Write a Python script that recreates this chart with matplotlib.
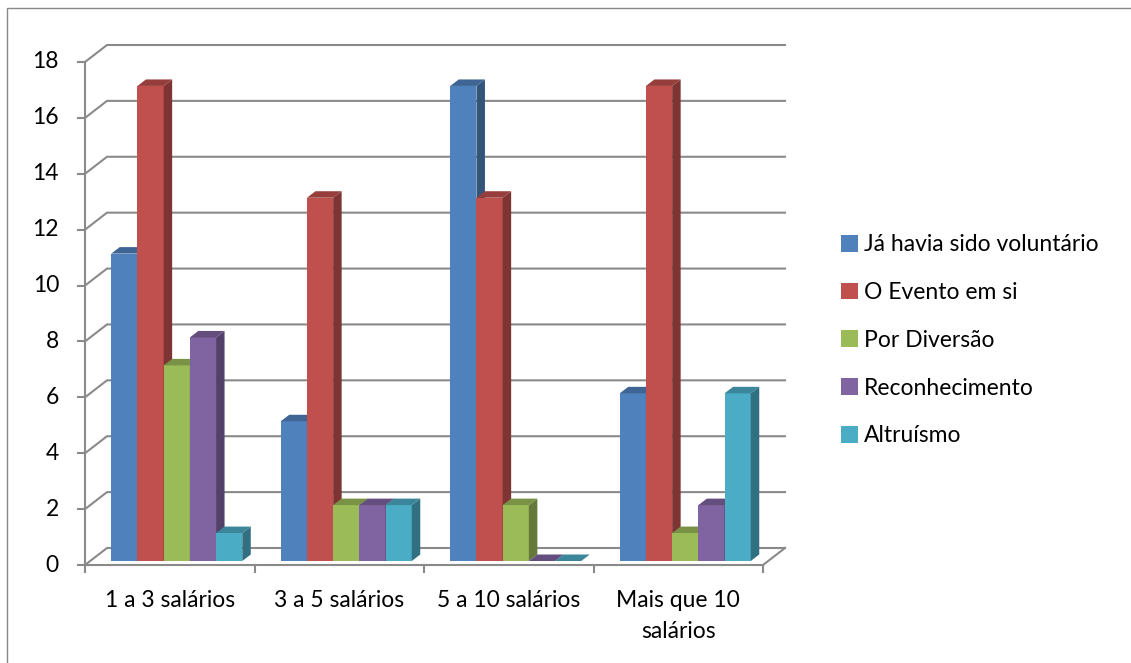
import numpy as np
import matplotlib.pyplot as plt
from matplotlib.patches import Polygon, Rectangle, Patch

plt.rcParams['font.family'] = ['Lato', 'DejaVu Sans']

categorias = ["1 a 3 salários", "3 a 5 salários", "5 a 10 salários", "Mais que 10\nsalários"]
series = ["Já havia sido voluntário", "O Evento em si", "Por Diversão",
          "Reconhecimento", "Altruísmo"]
ja_voluntario = [11, 5, 17, 6]
evento = [17, 13, 13, 17]
diversao = [7, 2, 2, 1]
reconhecimento = [8, 2, 0, 2]
altruismo = [1, 2, 0, 6]
valores = [ja_voluntario, evento, diversao, reconhecimento, altruismo]
yticks = list(range(0, 19, 2))

cores = ["#4F81BD", "#C0504D", "#9BBB59", "#8064A2", "#4BACC6"]
fs = 16.5

def escurece(c, f):
    c = c.lstrip('#')
    rgb = np.array([int(c[k:k+2], 16) for k in (0, 2, 4)]) / 255.0
    return tuple(rgb * f)

W, H = 1131, 663
fig = plt.figure(figsize=(W/100, H/100), dpi=100)
# front plane of the 3d box
x0p, x1p, y0p, y1p = 85, 763, 565, 62
ax = fig.add_axes([x0p/W, 1 - y0p/H, (x1p-x0p)/W, (y0p-y1p)/H])
ax.set_xlim(0, 4)
ax.set_ylim(0, 18)
ax.axis('off')

px = 4.0/(x1p-x0p)     # data units per pixel
py = 18.0/(y0p-y1p)
DX, DY = 22*px, 17*py    # depth of the box
gcol = "#8a8a8a"

# grid on walls
for v in yticks:
    ax.plot([0, DX, 4+DX], [v, v+DY, v+DY], color=gcol, lw=1.5, clip_on=False, zorder=1)
    ax.plot([-7*px, 0], [v, v], color=gcol, lw=1.5, clip_on=False, zorder=1)
    ax.text(-26*px, v, str(v), ha='right', va='center', fontsize=fs, color='black')
ax.plot([0, 0], [0, 18], color=gcol, lw=1.5, clip_on=False, zorder=1)
ax.plot([0, 4, 4+DX], [0, 0, DY], color=gcol, lw=1.5, clip_on=False, zorder=1)
for i in range(5):
    ax.plot([i, i], [0, -7*py], color=gcol, lw=1.5, clip_on=False, zorder=1)

# bars
w = 0.1546
bdx, bdy = 7*px, 4*py
tdx, tdy = 8.5*px, 6.5*py
for i in range(len(categorias)):
    for j in range(len(series)):
        v = valores[j][i]
        xa = i + (1 - 5*w)/2 + bdx + j*w
        xb = xa + w
        y0, y1 = bdy, v + bdy
        if v > 0:
            ax.add_patch(Rectangle((xa, y0), w, v, facecolor=cores[j], edgecolor='none',
                                   clip_on=False, zorder=2))
            ax.add_patch(Polygon([(xb, y0), (xb+tdx, y0+tdy), (xb+tdx, y1+tdy), (xb, y1)],
                                 facecolor=escurece(cores[j], 0.65), edgecolor='none',
                                 clip_on=False, zorder=2))
        ax.add_patch(Polygon([(xa, y1), (xa+tdx, y1+tdy), (xb+tdx, y1+tdy), (xb, y1)],
                             facecolor=escurece(cores[j], 0.78), edgecolor='none',
                             clip_on=False, zorder=2))

for i, c in enumerate(categorias):
    ax.text(i + 0.5, -25*py, c, ha='center', va='top', fontsize=fs,
            linespacing=1.6, color='black')

handles = [Patch(facecolor=cores[j], edgecolor='none') for j in range(5)]
fig.legend(handles, series, loc='upper left', bbox_to_anchor=(832/W, 1 - 225/H),
           frameon=False, fontsize=fs, handlelength=0.75, handleheight=0.75,
           handletextpad=0.25, labelspacing=1.17, borderaxespad=0)

# outer chart border
fig.patches.append(Rectangle((7/W, -0.1), 1.2, 1 - 8/H + 0.1, transform=fig.transFigure,
                             facecolor='none', edgecolor='#888888', lw=1))

fig.savefig("out.png", dpi=100)
